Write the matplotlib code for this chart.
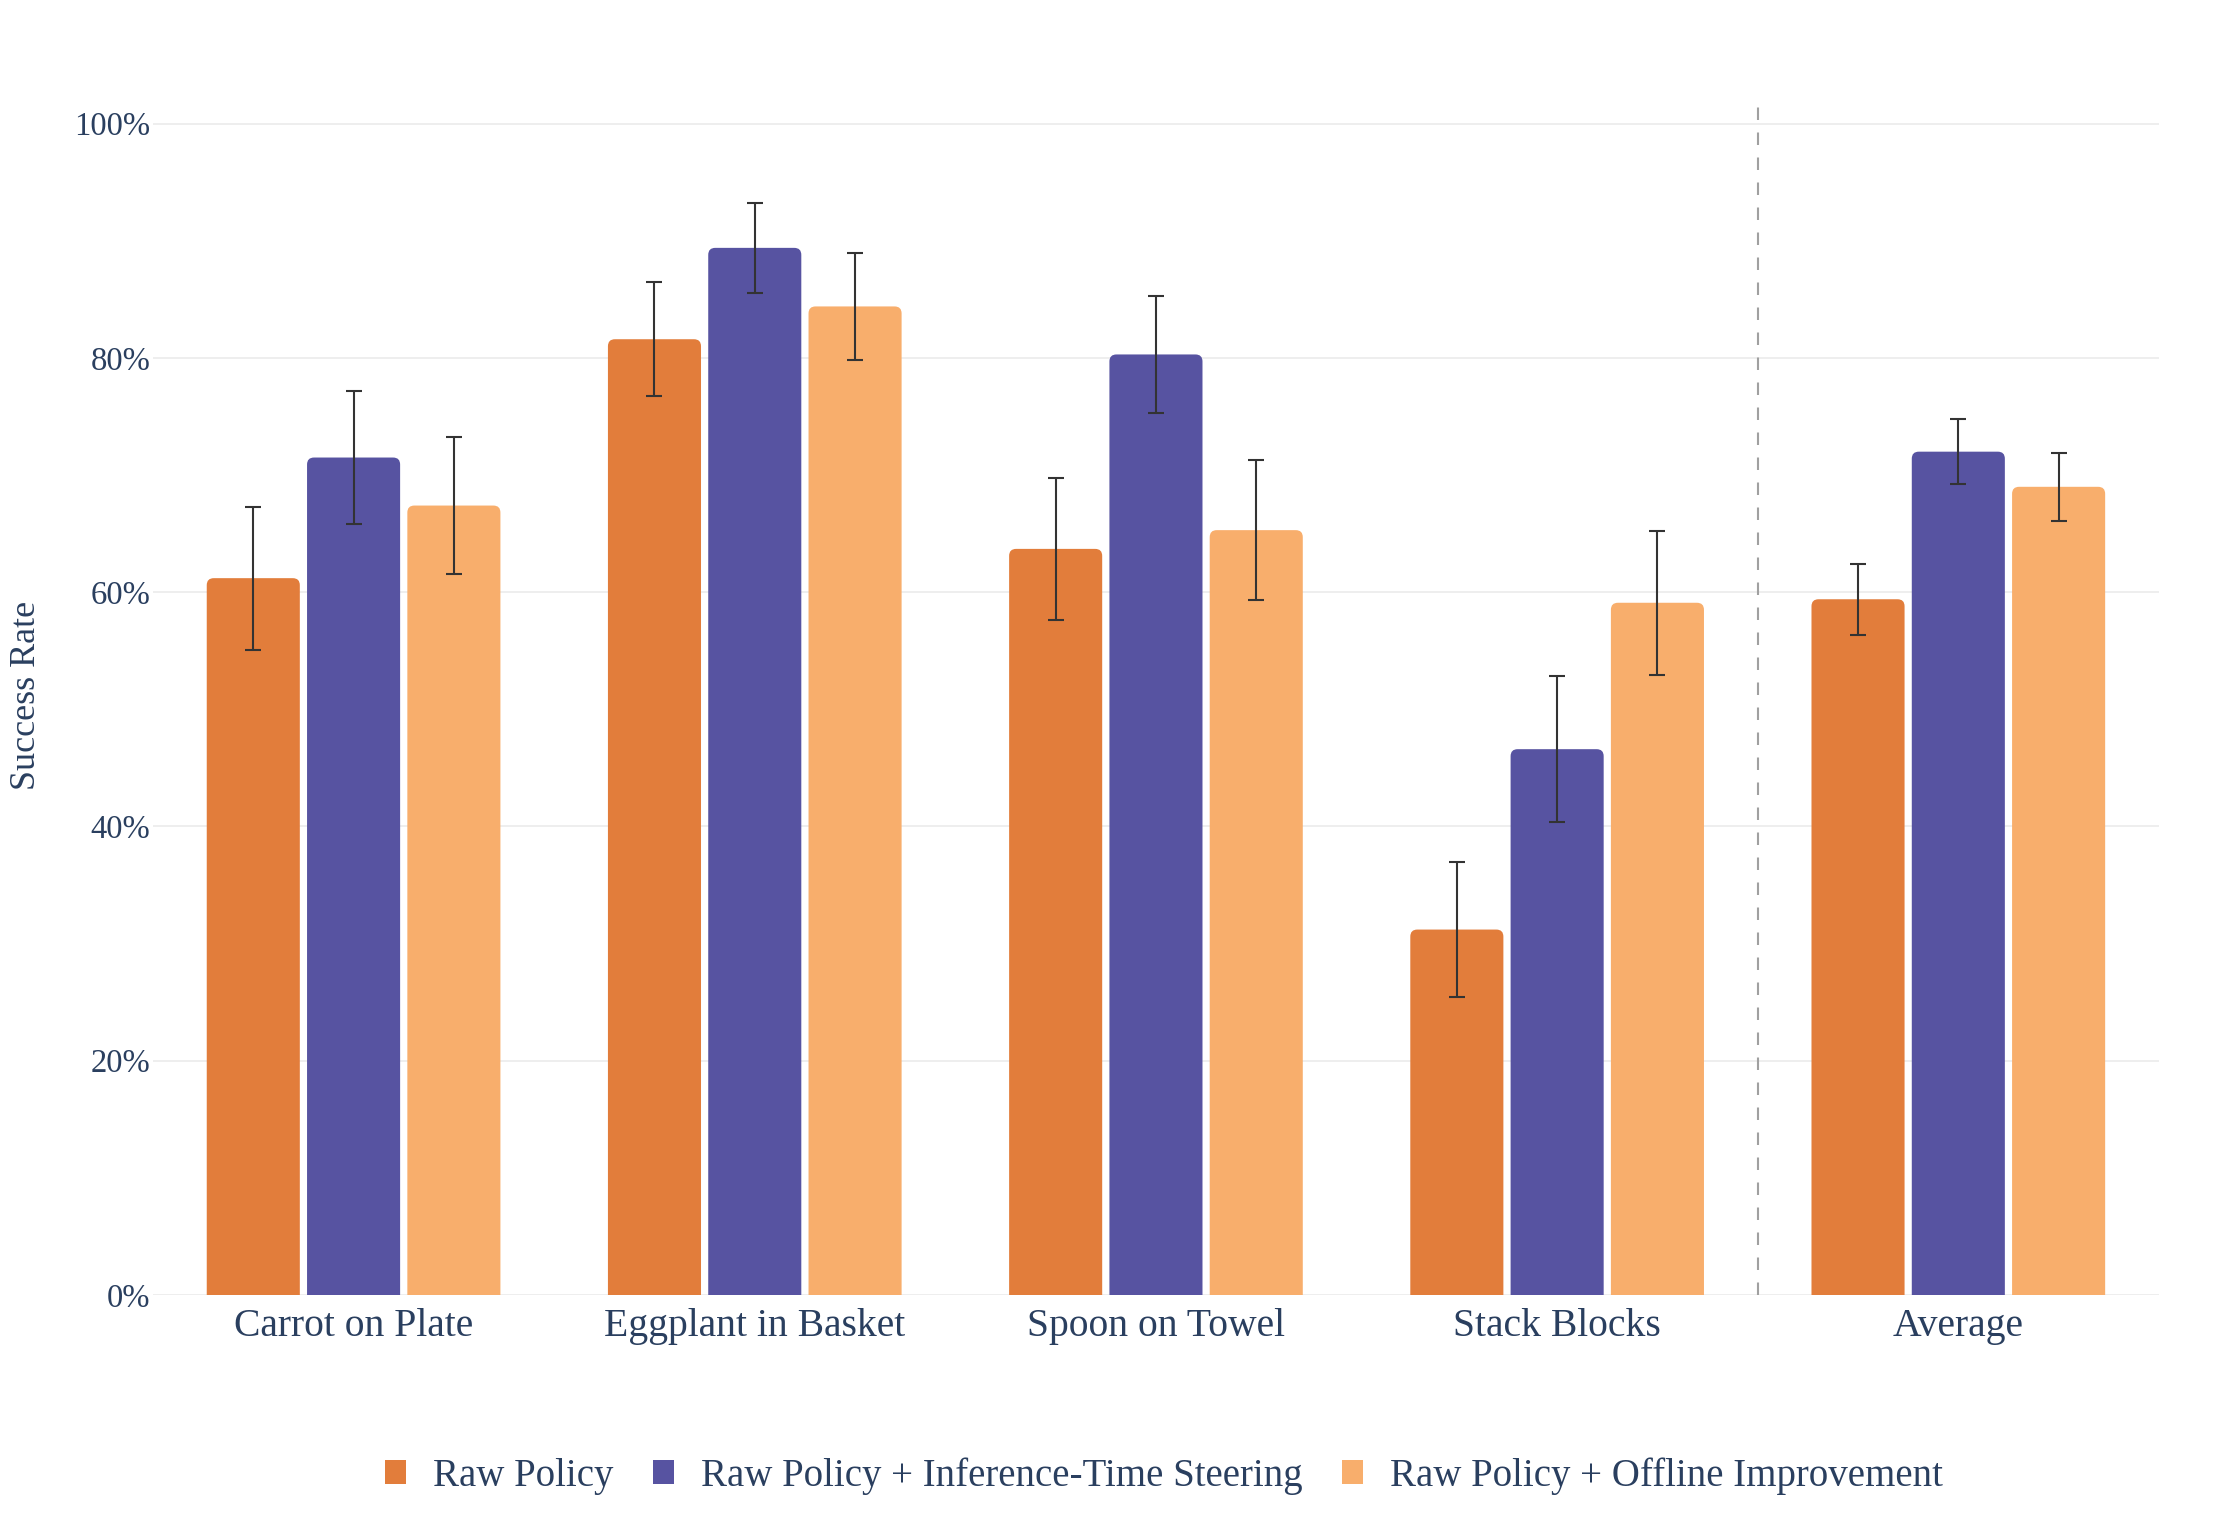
# plot.py
# Success rate per task for the raw policy and two improved variants.

import matplotlib
matplotlib.use("Agg")
import matplotlib.pyplot as plt
from matplotlib.patches import FancyBboxPatch, Patch
from matplotlib.ticker import FuncFormatter
import numpy as np

plt.rcParams['font.family'] = ['Liberation Serif', 'DejaVu Serif']

# data (percent)
tasks = ["Carrot on Plate", "Eggplant in Basket", "Spoon on Towel", "Stack Blocks", "Average"]
series = ["Raw Policy", "Raw Policy + Inference-Time Steering", "Raw Policy + Offline Improvement"]
raw = [61.2, 81.6, 63.7, 31.2, 59.4]
raw_err = [6.1, 4.85, 6.05, 5.8, 3.05]
steer = [71.5, 89.4, 80.3, 46.6, 72.0]
steer_err = [5.65, 3.85, 5.0, 6.25, 2.8]
offline = [67.4, 84.4, 65.3, 59.1, 69.0]
offline_err = [5.85, 4.55, 5.95, 6.15, 2.9]
yticks = [0, 20, 40, 60, 80, 100]

colors = ["#E27D3B", "#5753A1", "#F8AE6C"]
text_color = "#2A3F5F"

fig = plt.figure(figsize=(22.4, 15.36), dpi=100)
ax = fig.add_axes([0.0683, 0.1569, 0.9638 - 0.0683, 0.937 - 0.1569])

x = np.arange(len(tasks))
offsets = [-0.25, 0.0, 0.25]
width = 0.232
ymax = 102.3

# pixels per data unit, used to keep the corner rounding circular
px_x = 401.2
px_y = 11.72
r_px = 7.0

for vals, errs, off, col in zip([raw, steer, offline], [raw_err, steer_err, offline_err], offsets, colors):
    for xi, v in zip(x + off, vals):
        box = FancyBboxPatch((xi - width / 2, -3), width, v + 3,
                             boxstyle="round,pad=0,rounding_size=%f" % (r_px / px_x),
                             mutation_aspect=px_x / px_y,
                             facecolor=col, edgecolor="none", zorder=2, clip_on=True)
        ax.add_patch(box)
    ax.errorbar(x + off, vals, yerr=errs, fmt="none", ecolor="#333333",
                elinewidth=1.5, capsize=5.8, capthick=1.5, zorder=3)

ax.axvline(3.5, color="#A0A0A0", linestyle=(0, (6, 6)), linewidth=1.5, zorder=1)

ax.set_xlim(-0.5, 4.5)
ax.set_ylim(0, ymax)
ax.set_yticks(yticks)
ax.yaxis.set_major_formatter(FuncFormatter(lambda v, p: "%d%%" % v))
ax.set_xticks(x)
ax.set_xticklabels(tasks)
ax.grid(axis="y", color="#EBEBEB", linewidth=1.2, zorder=0)
ax.set_axisbelow(True)
for s in ax.spines.values():
    s.set_visible(False)
ax.tick_params(axis="both", length=0, colors=text_color)
ax.tick_params(axis="x", labelsize=28.5, pad=9)
ax.tick_params(axis="y", labelsize=23.5, pad=2)
ax.set_ylabel("Success Rate", fontsize=26, color=text_color)
ax.yaxis.set_label_coords(-0.055, 0.5)

handles = [Patch(facecolor=c, edgecolor="none") for c in colors]
fig.legend(handles, series, loc="center", bbox_to_anchor=(0.5196, 0.039), ncol=3,
           frameon=False, fontsize=28, labelcolor=text_color,
           handlelength=0.55, handleheight=0.55, handletextpad=0.7, columnspacing=1.0)

fig.savefig("out.png", dpi=100)
